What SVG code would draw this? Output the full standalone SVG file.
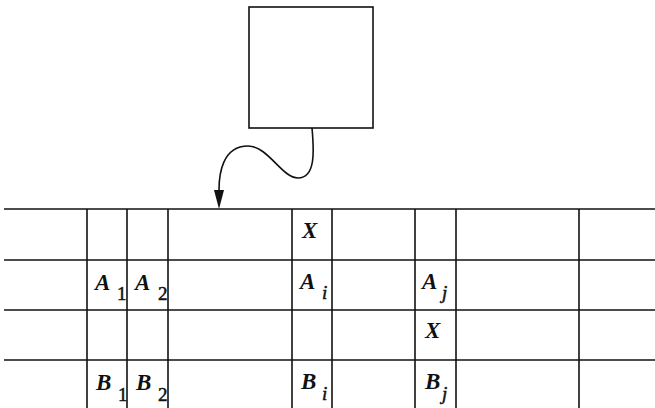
<svg xmlns="http://www.w3.org/2000/svg" width="655" height="408" viewBox="0 0 655 408">
<style>
.ln{stroke:#111;stroke-width:1.6;fill:none}
.t{font-family:"Liberation Serif","Times New Roman",serif;font-size:23px;font-style:italic;font-weight:bold;fill:#111}
.s{font-family:"Liberation Serif","Times New Roman",serif;font-size:19px;fill:#111;stroke:#111;stroke-width:0.5}
.si{font-family:"Liberation Serif","Times New Roman",serif;font-size:19px;font-style:italic;fill:#111;stroke:#111;stroke-width:0.5}
</style>
<rect width="655" height="408" fill="#fff"/>
<g id="box">
<rect class="ln" x="249" y="7" width="124" height="121"/>
</g>
<g id="connectors">
<path class="ln" d="M312,128 C314,150 316,178 298,178 C282,178 268,146 248,146 C222,146 219,175 219,190" />
<path d="M214,190 L224,190 L219,209 Z" fill="#111"/>
</g>
<g id="grid">
<line class="ln" x1="4" y1="209" x2="655" y2="209"/>
<line class="ln" x1="4" y1="260" x2="655" y2="260"/>
<line class="ln" x1="4" y1="310" x2="655" y2="310"/>
<line class="ln" x1="4" y1="360" x2="655" y2="360"/>
<line class="ln" x1="87" y1="209" x2="87" y2="408"/>
<line class="ln" x1="127" y1="209" x2="127" y2="408"/>
<line class="ln" x1="168" y1="209" x2="168" y2="408"/>
<line class="ln" x1="292" y1="209" x2="292" y2="408"/>
<line class="ln" x1="332" y1="209" x2="332" y2="408"/>
<line class="ln" x1="415" y1="209" x2="415" y2="408"/>
<line class="ln" x1="456" y1="209" x2="456" y2="408"/>
<line class="ln" x1="579" y1="209" x2="579" y2="408"/>
</g>
<g id="X1"><text class="t" x="302" y="238">X</text></g>
<g id="A1"><text class="t" x="95" y="290">A</text><text class="s" x="117" y="300">1</text></g>
<g id="A2"><text class="t" x="135" y="290">A</text><text class="s" x="158" y="300">2</text></g>
<g id="Ai"><text class="t" x="300" y="289">A</text><text class="si" x="322" y="299">i</text></g>
<g id="Aj"><text class="t" x="422" y="289">A</text><text class="si" x="442" y="299">j</text></g>
<g id="X2"><text class="t" x="425" y="338">X</text></g>
<g id="B1"><text class="t" x="96" y="390">B</text><text class="s" x="118" y="401">1</text></g>
<g id="B2"><text class="t" x="136" y="390">B</text><text class="s" x="158" y="401">2</text></g>
<g id="Bi"><text class="t" x="301" y="389">B</text><text class="si" x="322" y="400">i</text></g>
<g id="Bj"><text class="t" x="425" y="389">B</text><text class="si" x="442" y="400">j</text></g>
</svg>
